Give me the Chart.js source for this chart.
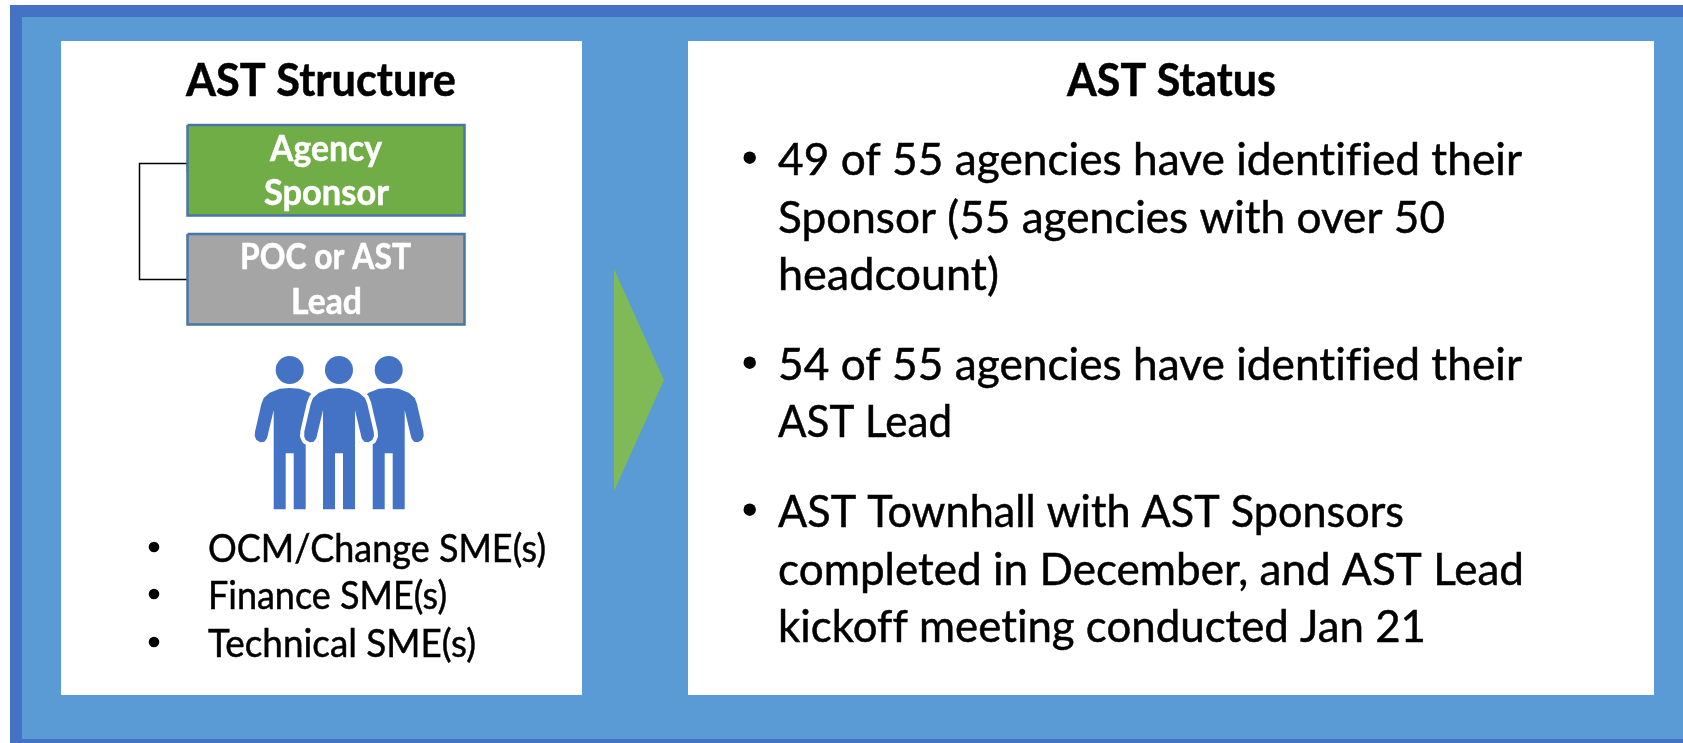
<!DOCTYPE html>
<html>
<head>
<meta charset="utf-8">
<title>AST Structure and Status</title>
<script src="https://cdn.jsdelivr.net/npm/chart.js@4/dist/chart.umd.js"></script>
<style>
  html, body { margin: 0; padding: 0; background: #fff; overflow: hidden; }
  canvas { display: block; }
</style>
</head>
<body>
<canvas id="diagram" width="1683" height="743"></canvas>
<script>
const structureTitle = 'AST Structure';
const statusTitle = 'AST Status';
const sponsorLabel = ['Agency', 'Sponsor'];
const leadLabel = ['POC or AST', 'Lead'];
const smeRoles = ['OCM/Change SME(s)', 'Finance SME(s)', 'Technical SME(s)'];
const statusItems = [
  ['49 of 55 agencies have identified their', 'Sponsor (55 agencies with over 50', 'headcount)'],
  ['54 of 55 agencies have identified their', 'AST Lead'],
  ['AST Townhall with AST Sponsors', 'completed in December, and AST Lead', 'kickoff meeting conducted Jan 21']
];

const DARK = '#4472c4';
const LIGHT = '#5b9bd5';
const FONT = 'Lato, Carlito, "Noto Sans", sans-serif';

function rect(x0, y0, x1, y1) {
  return [{x: x0, y: y0}, {x: x1, y: y0}, {x: x1, y: y1}, {x: x0, y: y1}, {x: x0, y: y0}];
}

function shape(points, color, extra) {
  return Object.assign({
    data: points, showLine: true, fill: 'shape', backgroundColor: color,
    borderColor: color, borderWidth: 0, pointRadius: 0, tension: 0, clip: false
  }, extra);
}

// half outline of the figure
const personHalf = [[0,58],[10,58.7],[20,62.7],[26,68],[28.3,74],[34.7,101.7],[35,106],[33.3,110],[29.3,112.3],[25.3,111.7],[22.7,108.3],[16,80],[16,179.3],[4,179.3],[4,123.3]];

function person(cx) {
  const right = personHalf.map(p => ({x: cx + p[0], y: 330 + p[1]}));
  const left = personHalf.slice().reverse().map(p => ({x: cx - p[0], y: 330 + p[1]}));
  return right.concat(left);
}

const heads = [{x: 289.7, y: 370}, {x: 339, y: 370}, {x: 388.7, y: 370}];

// painted back to front
const layers = [
  shape(rect(10, 5, 1683, 743), DARK),
  shape(rect(22, 17, 1683, 739), LIGHT),
  shape(rect(61, 41, 582, 695), '#ffffff'),
  shape(rect(688, 41, 1654, 695), '#ffffff'),
  shape([{x: 614, y: 269}, {x: 664, y: 380}, {x: 614, y: 491}, {x: 614, y: 269}], '#7fba56'),
  shape([{x: 187.5, y: 172}, {x: 187.5, y: 163.5}, {x: 139.5, y: 163.5}, {x: 139.5, y: 279.5}, {x: 187.5, y: 279.5}], 'transparent', {fill: false, borderColor: '#000000', borderWidth: 1.5}),
  shape(rect(187.5, 125, 464.5, 215.5), '#70ad47', {borderColor: '#4a76a6', borderWidth: 2.5}),
  shape(rect(187.5, 234, 464.5, 324.5), '#a5a5a5', {borderColor: '#4a76a6', borderWidth: 2.5}),
  shape(person(289.7), DARK),
  shape(person(388.7), DARK),
  shape(person(339), '#ffffff', {fill: false, borderColor: '#ffffff', borderWidth: 8, borderJoinStyle: 'round'}),
  shape(person(339), DARK),
  {data: heads, pointRadius: 14, pointBackgroundColor: DARK, pointBorderWidth: 0, showLine: false, clip: false}
];

// stretches the line sideways so it fills the width measured in the reference
function putText(ctx, text, x, y, px, weight, color, width) {
  ctx.save();
  ctx.font = weight + ' ' + px + 'px ' + FONT;
  ctx.letterSpacing = '0.01px';
  ctx.fillStyle = color;
  ctx.strokeStyle = color;
  ctx.lineWidth = 0.5;
  ctx.textBaseline = 'alphabetic';
  ctx.textAlign = 'left';
  ctx.translate(x, y);
  ctx.scale(width / ctx.measureText(text).width, 1);
  ctx.fillText(text, 0, 0);
  ctx.strokeText(text, 0, 0);
  ctx.restore();
}

function dot(ctx, x, y, r) {
  ctx.beginPath();
  ctx.arc(x, y, r, 0, Math.PI * 2);
  ctx.fillStyle = '#000';
  ctx.fill();
}

const textPlugin = {
  id: 'diagramText',
  afterDatasetsDraw(chart) {
    const ctx = chart.ctx;
    putText(ctx, structureTitle, 186, 96, 45, 'bold', '#000', 270);
    putText(ctx, statusTitle, 1067, 96, 45, 'bold', '#000', 209);

    putText(ctx, sponsorLabel[0], 270, 161, 36, 'bold', '#fff', 112);
    putText(ctx, sponsorLabel[1], 264, 205, 36, 'bold', '#fff', 125);
    putText(ctx, leadLabel[0], 240, 269, 36, 'bold', '#fff', 171);
    putText(ctx, leadLabel[1], 291, 314, 36, 'bold', '#fff', 71);

    const smeWidths = [338, 239, 268];
    [562, 609, 657].forEach((y, i) => {
      dot(ctx, 154, y - 15, 5.3);
      putText(ctx, smeRoles[i], 208, y, 38, 'normal', '#000', smeWidths[i]);
    });

    const baselines = [[175, 233, 290], [380, 437], [527, 585, 642]];
    const statusWidths = [[744, 667, 221], [744, 174], [626, 746, 648]];
    statusItems.forEach((lines, i) => {
      dot(ctx, 749.7, baselines[i][0] - 17.3, 6.2);
      lines.forEach((line, j) => putText(ctx, line, 778, baselines[i][j], 45, 'normal', '#000', statusWidths[i][j]));
    });
  }
};

new Chart(document.getElementById('diagram').getContext('2d'), {
  type: 'scatter',
  data: {datasets: layers.slice().reverse()},
  options: {
    responsive: false,
    animation: false,
    layout: {padding: 0, autoPadding: false},
    plugins: {legend: {display: false}, tooltip: {enabled: false}, title: {display: false}},
    scales: {
      x: {type: 'linear', min: 0, max: 1683, display: false},
      y: {type: 'linear', min: 0, max: 743, reverse: true, display: false}
    }
  },
  plugins: [textPlugin]
});
</script>
</body>
</html>
